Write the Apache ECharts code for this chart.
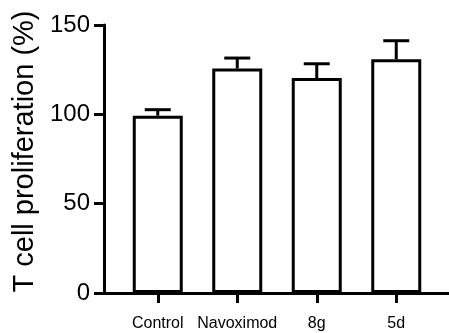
<!DOCTYPE html>
<html><head><meta charset="utf-8">
<script src="https://cdn.jsdelivr.net/npm/echarts@6/dist/echarts.min.js"></script>
<style>html,body{margin:0;padding:0;background:#fff}#c{width:449px;height:333px}</style>
</head><body><div id="c"></div>
<script>
const categories = ['Control', 'Navoximod', '8g', '5d'];
const means = [99.2, 125.6, 120.3, 130.8];
const errors = [3.4, 5.9, 8.0, 10.4];
const yTicks = [0, 50, 100, 150];

const FONT = 'Liberation Sans, Arial, sans-serif';
const chart = echarts.init(document.getElementById('c'), null, {renderer: 'canvas'});
chart.setOption({
  animation: false,
  backgroundColor: '#fff',
  grid: [
    {left: 104, right: 0, top: 25, bottom: 40},
    {left: 118, right: 13, top: 25, bottom: 40}
  ],
  xAxis: [
    {gridIndex: 0, type: 'value', min: 0, max: 1,
     axisLine: {show: true, onZero: false, lineStyle: {color: '#000', width: 3}},
     axisTick: {show: false}, axisLabel: {show: false}, splitLine: {show: false}},
    {gridIndex: 1, type: 'category', data: categories,
     axisLine: {show: false},
     axisTick: {show: true, alignWithLabel: true, length: 10, lineStyle: {color: '#000', width: 3}},
     axisLabel: {color: '#000', fontSize: 16, fontFamily: FONT, margin: 23, interval: 0}}
  ],
  yAxis: [
    {gridIndex: 0, type: 'value', min: yTicks[0], max: yTicks[yTicks.length - 1], show: false},
    {gridIndex: 1, type: 'value', min: yTicks[0], max: yTicks[yTicks.length - 1], interval: 50,
     offset: 14,
     name: 'T cell proliferation (%)', nameLocation: 'middle', nameGap: 62,
     nameTextStyle: {color: '#000', fontSize: 29, fontFamily: FONT, padding: [0, 0, 0, 15]},
     axisLine: {show: true, lineStyle: {color: '#000', width: 3}},
     axisTick: {show: true, length: 10, lineStyle: {color: '#000', width: 3}},
     axisLabel: {color: '#000', fontSize: 24, fontFamily: FONT, margin: 14},
     splitLine: {show: false}}
  ],
  series: [
    {type: 'bar', xAxisIndex: 1, yAxisIndex: 1, data: means, barWidth: 50,
     itemStyle: {color: '#fff', borderColor: '#000', borderWidth: 3}, z: 2},
    {type: 'custom', xAxisIndex: 1, yAxisIndex: 1, z: 3,
     data: means.map((m, i) => [i, m, m + errors[i]]),
     renderItem: function (params, api) {
       const base = api.coord([api.value(0), api.value(1)]);
       const top = api.coord([api.value(0), api.value(2)]);
       const hw = 13;
       const style = {stroke: '#000', lineWidth: 3, fill: null};
       return {type: 'group', children: [
         {type: 'line', shape: {x1: base[0], y1: base[1], x2: top[0], y2: top[1]}, style: style},
         {type: 'line', shape: {x1: top[0] - hw, y1: top[1], x2: top[0] + hw, y2: top[1]}, style: style}
       ]};
     }}
  ]
});
</script></body></html>
